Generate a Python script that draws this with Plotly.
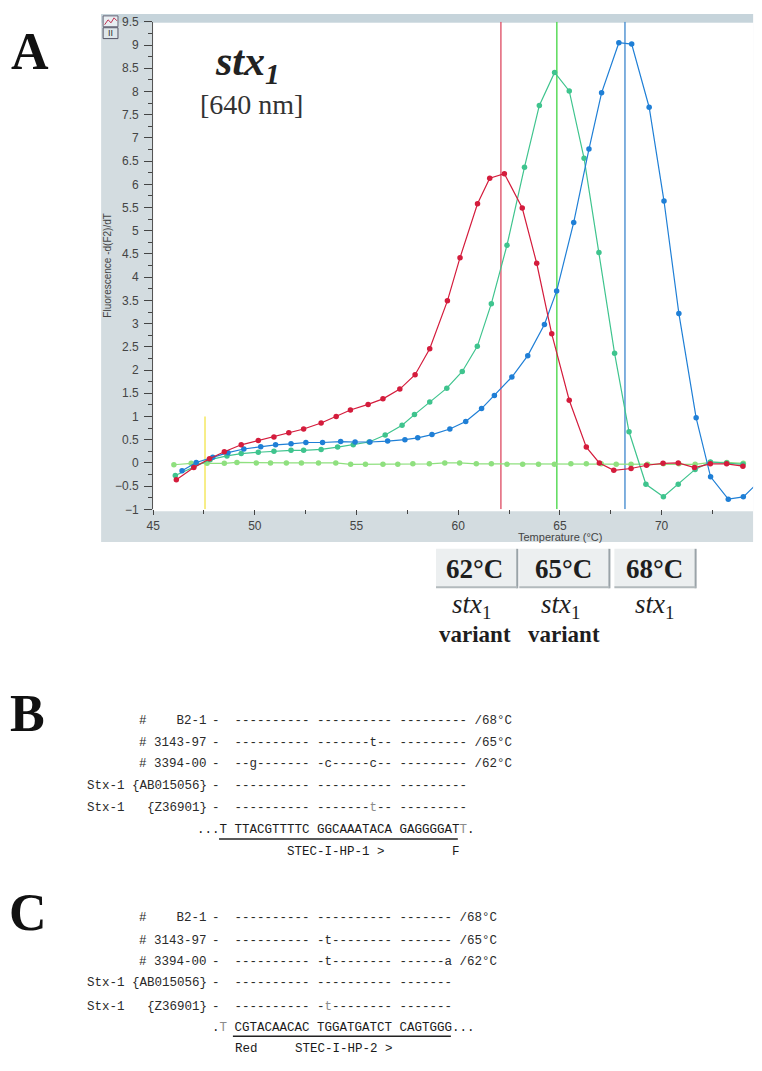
import re
import plotly.graph_objects as go

# ---------------- data ----------------
red_T = [46.14, 47.0, 47.77, 48.5, 49.33, 50.17, 50.94, 51.67, 52.4, 53.26, 54.0, 54.7,
         55.57, 56.3, 57.13, 57.88, 58.6, 59.47, 60.09, 60.95, 61.55, 62.27, 63.15, 63.86,
         64.6, 65.46, 66.3, 66.94, 67.65, 68.5, 69.26, 70.07, 70.82, 71.62, 72.4, 73.2, 74.0]
red_v = [-0.36, -0.10, 0.09, 0.24, 0.39, 0.48, 0.56, 0.65, 0.73, 0.86, 1.00, 1.14,
         1.26, 1.38, 1.59, 1.90, 2.46, 3.49, 4.42, 5.58, 6.13, 6.23, 5.49, 4.30,
         2.78, 1.35, 0.34, 0.00, -0.16, -0.12, -0.05, -0.01, 0.00, -0.10, -0.02, -0.02, -0.07]

teal_T = [46.09, 47.0, 47.8, 48.63, 49.33, 50.17, 50.94, 51.78, 52.4, 53.26, 54.07, 54.84,
          55.62, 56.41, 57.24, 57.85, 58.6, 59.44, 60.2, 60.94, 61.63, 62.4, 63.26, 63.99,
          64.74, 65.46, 66.19, 66.92, 67.69, 68.4, 69.23, 70.09, 70.82, 71.65, 72.4, 73.2, 74.0]
teal_v = [-0.27, -0.08, 0.07, 0.15, 0.20, 0.23, 0.25, 0.27, 0.27, 0.29, 0.34, 0.39,
          0.45, 0.60, 0.81, 1.04, 1.31, 1.61, 1.97, 2.51, 3.43, 4.69, 6.37, 7.70,
          8.41, 8.01, 6.56, 4.53, 2.36, 0.67, -0.46, -0.73, -0.46, -0.14, 0.02, 0.00, -0.03]

blue_T = [46.42, 47.12, 47.93, 48.68, 49.46, 50.29, 51.02, 51.78, 52.51, 53.33, 54.22, 54.93,
          55.66, 56.53, 57.38, 58.01, 58.71, 59.59, 60.37, 61.15, 61.78, 62.64, 63.42, 64.24,
          64.84, 65.68, 66.43, 67.05, 67.9, 68.53, 69.39, 70.12, 70.85, 71.7, 72.41, 73.28,
          74.02, 74.8]
blue_v = [-0.17, 0.01, 0.12, 0.22, 0.30, 0.35, 0.39, 0.41, 0.44, 0.44, 0.46, 0.45,
          0.45, 0.47, 0.50, 0.54, 0.61, 0.73, 0.89, 1.17, 1.45, 1.85, 2.31, 2.98,
          3.70, 5.18, 6.76, 7.97, 9.05, 9.02, 7.66, 5.64, 3.22, 0.97, -0.30, -0.78,
          -0.73, -0.40]

green_T = [46.02, 46.87, 47.65, 48.5, 49.12, 50.07, 50.77, 51.55, 52.29, 53.13, 53.98, 54.71,
           55.44, 56.3, 57.03, 57.77, 58.58, 59.34, 60.07, 60.89, 61.63, 62.4, 63.17, 63.95,
           64.73, 65.54, 66.3, 67.03, 67.77, 68.5, 69.31, 70.09, 70.85, 71.65, 72.4, 73.21, 74.02]
green_v = [-0.04, -0.01, -0.01, -0.01, 0.01, 0.0, 0.0, 0.0, 0.0, 0.0, 0.0, -0.03,
           -0.03, -0.03, -0.03, -0.02, -0.02, 0.0, 0.0, -0.02, -0.02, -0.03, -0.03, -0.03,
           -0.03, -0.02, -0.02, -0.02, -0.03, -0.03, -0.03, -0.02, -0.02, -0.03, 0.01, 0.01, -0.01]

tm_values = [62.1, 64.85, 68.2]          # melting-peak cursor lines
tm_labels = ["62°C", "65°C", "68°C"]
tm_names = ["<i>stx</i><sub>1</sub>", "<i>stx</i><sub>1</sub>", "<i>stx</i><sub>1</sub>"]
tm_sub = ["variant", "variant", ""]
cursor_T = 47.55                          # yellow start cursor
cursor_range = [-1.0, 1.0]

x_range = [45, 74.5]
y_range = [-1, 9.5]

# "[x]" marks a base printed in light gray
b_labels = ["#    B2-1", "# 3143-97", "# 3394-00", "Stx-1 {AB015056}", "Stx-1   {Z36901}"]
b_rows = ["-  ---------- ---------- --------- /68°C",
          "-  ---------- -------t-- --------- /65°C",
          "-  --g------- -c-----c-- --------- /62°C",
          "-  ---------- ---------- ---------",
          "-  ---------- -------[t]-- ---------"]
b_seq = "...T TTACGTTTTC GGCAAATACA GAGGGGAT[T]."
b_probe = "STEC-I-HP-1 >         F"

c_labels = b_labels
c_rows = ["-  ---------- ---------- ------- /68°C",
          "-  ---------- -t-------- ------- /65°C",
          "-  ---------- -t-------- ------a /62°C",
          "-  ---------- ---------- -------",
          "-  ---------- -[t]-------- -------"]
c_seq = ".[T] CGTACAACAC TGGATGATCT CAGTGGG..."
c_probe = "Red     STEC-I-HP-2 >"

# ---------------- helpers ----------------
W, H = 762, 1071


def px(x):
    return x / W


def py(y):
    return 1 - y / H


def seqfmt(s):
    s = s.replace(" ", "\u00a0")
    return re.sub(r"\[(\w)\]", r"<span style='color:#8a8a8a'>\1</span>", s)


fig = go.Figure()

# cursor lines
line_cols = ["#e0566c", "#4fd84f", "#4a8fd0"]
for t, c in zip(tm_values, line_cols):
    fig.add_trace(go.Scatter(x=[t, t], y=y_range, mode="lines",
                             line=dict(color=c, width=1.4), hoverinfo="skip", showlegend=False))
fig.add_trace(go.Scatter(x=[cursor_T, cursor_T], y=cursor_range, mode="lines",
                         line=dict(color="#f2e23a", width=1.2), hoverinfo="skip", showlegend=False))

series = [
    (green_T, green_v, "#8fe07f"),
    (teal_T, teal_v, "#3fc48e"),
    (blue_T, blue_v, "#1f7fd6"),
    (red_T, red_v, "#d41c3c"),
]
for xs, ys, c in series:
    fig.add_trace(go.Scatter(x=xs, y=ys, mode="lines+markers", cliponaxis=True,
                             line=dict(color=c, width=1.2),
                             marker=dict(color=c, size=5.5),
                             hoverinfo="skip", showlegend=False))

shapes = []
# gray instrument panel + white plot area
shapes.append(dict(type="rect", xref="paper", yref="paper", layer="below",
                   x0=px(95), x1=px(753), y0=py(542), y1=py(7),
                   fillcolor="#d3dce0", line=dict(width=0)))
shapes.append(dict(type="rect", xref="paper", yref="paper", layer="below",
                   x0=px(95), x1=px(753), y0=py(16), y1=py(7),
                   fillcolor="#c6d4db", line=dict(width=0)))
shapes.append(dict(type="rect", xref="paper", yref="paper", layer="below",
                   x0=px(147.5), x1=px(753), y0=py(511), y1=py(16),
                   fillcolor="white", line=dict(width=0)))
# small toolbar icons
shapes.append(dict(type="rect", xref="paper", yref="paper",
                   x0=px(97), x1=px(112), y0=py(20), y1=py(9),
                   fillcolor="#e8eef2", line=dict(color="#667", width=1)))
shapes.append(dict(type="path", xref="paper", yref="paper",
                   path=f"M {px(98.5)},{py(18)} L {px(102)},{py(13)} L {px(105)},{py(16)} L {px(108)},{py(11)} L {px(111)},{py(14)}",
                   line=dict(color="#c03050", width=1)))
shapes.append(dict(type="rect", xref="paper", yref="paper",
                   x0=px(97), x1=px(112), y0=py(32), y1=py(21),
                   fillcolor="#dfe6ea", line=dict(color="#556", width=1)))

# Tm buttons
box_x = [(433, 515), (517, 608), (613, 695)]
for (x0, x1) in box_x:
    shapes.append(dict(type="rect", xref="paper", yref="paper",
                       x0=px(x0), x1=px(x1), y0=py(588), y1=py(549),
                       fillcolor="#eceff0", line=dict(width=0)))
    shapes.append(dict(type="line", xref="paper", yref="paper",
                       x0=px(x1), x1=px(x1), y0=py(589), y1=py(549),
                       line=dict(color="#9aa3a8", width=2)))
    shapes.append(dict(type="line", xref="paper", yref="paper",
                       x0=px(x0), x1=px(x1), y0=py(588), y1=py(588),
                       line=dict(color="#b3babd", width=2)))

# underlines of probe sequences
shapes.append(dict(type="line", xref="paper", yref="paper",
                   x0=px(214), x1=px(455), y0=py(843), y1=py(843),
                   line=dict(color="#222", width=1.5)))
shapes.append(dict(type="line", xref="paper", yref="paper",
                   x0=px(228), x1=px(448), y0=py(1043), y1=py(1043),
                   line=dict(color="#222", width=1.5)))

ann = []


def add_text(x, y, text, size, family="Liberation Serif", color="#1a1a1a",
             xanchor="center", yanchor="middle", angle=0):
    ann.append(dict(x=px(x), y=py(y), xref="paper", yref="paper", text=text,
                    showarrow=False, xanchor=xanchor, yanchor=yanchor, textangle=angle,
                    borderpad=0, borderwidth=0,
                    font=dict(family=family, size=size, color=color)))


# panel letters
add_text(23, 45, "<b>A</b>", 52, color="#111")
add_text(21, 716, "<b>B</b>", 52, color="#111")
add_text(21, 917, "<b>C</b>", 52, color="#111")

# chart titles
add_text(243, 58, "<b><i>stx<sub>1</sub></i></b>", 42, color="#222")
add_text(247, 99, "[640 nm]", 28, color="#333")
add_text(102, 262, "Fluorescence -d(F2)/dT", 10, family="Liberation Sans",
         color="#444", angle=-90)
add_text(558, 537, "Temperature (°C)", 11, family="Liberation Sans", color="#444")
add_text(104.5, 26.5, "II", 9, family="Liberation Sans", color="#333")

# Tm buttons text
centers = [472, 562, 653]
for cx, lab, nm, sub in zip(centers, tm_labels, tm_names, tm_sub):
    add_text(cx, 569, f"<b>{lab}</b>", 27, color="#1e1e1e")
    add_text(cx - 3 if sub else cx, 607, nm, 27, color="#1e1e1e")
    if sub:
        add_text(cx, 636, f"<b>{sub}</b>", 23, color="#1e1e1e")

# alignment panels
mono = "Liberation Mono"
MS = 12.5
CW = 7.5
x_row = 207.25
x_lab = 202

b_y = [723, 746, 767, 789, 812]
for lab, row, yy in zip(b_labels, b_rows, b_y):
    add_text(x_lab, yy, seqfmt(lab), MS, family=mono, color="#2a2a2a", xanchor="right")
    add_text(x_row, yy, seqfmt(row), MS, family=mono, color="#2a2a2a", xanchor="left")
add_text(x_row - 2 * CW, 834, seqfmt(b_seq), MS, family=mono, color="#1a1a1a", xanchor="left")
add_text(x_row + 10 * CW, 856, seqfmt(b_probe), MS, family=mono, color="#1a1a1a", xanchor="left")

c_y = [923, 946, 968, 989, 1013]
for lab, row, yy in zip(c_labels, c_rows, c_y):
    add_text(x_lab, yy, seqfmt(lab), MS, family=mono, color="#2a2a2a", xanchor="right")
    add_text(x_row, yy, seqfmt(row), MS, family=mono, color="#2a2a2a", xanchor="left")
add_text(x_row, 1035, seqfmt(c_seq), MS, family=mono, color="#1a1a1a", xanchor="left")
add_text(x_row + 3 * CW, 1056, seqfmt(c_probe), MS, family=mono, color="#1a1a1a", xanchor="left")

fig.update_layout(
    width=W, height=H, autosize=False,
    margin=dict(l=0, r=0, t=0, b=0),
    paper_bgcolor="white", plot_bgcolor="white",
    showlegend=False,
    shapes=shapes, annotations=ann,
    xaxis=dict(domain=[px(147.5), px(753)], range=x_range, tick0=45, dtick=5,
               ticks="outside", ticklen=5, tickcolor="#444", tickwidth=1,
               tickfont=dict(family="Liberation Sans", size=12, color="#444"),
               showgrid=False, zeroline=False, showline=False, fixedrange=True,
               minor=dict(dtick=2.5, ticks="outside", ticklen=4, tickcolor="#444", showgrid=False)),
    yaxis=dict(domain=[py(509), py(15)], range=y_range, tick0=0, dtick=0.5,
               ticks="outside", ticklen=8, tickcolor="#444", tickwidth=1,
               tickfont=dict(family="Liberation Sans", size=12, color="#444"),
               showgrid=False, zeroline=False, showline=True, linecolor="#555", linewidth=1,
               ticklabelstandoff=3, fixedrange=True,
               minor=dict(dtick=0.25, ticks="outside", ticklen=4, tickcolor="#444", showgrid=False)),
)

fig.write_html("out.html", config={"displayModeBar": False},
               post_script="document.body.style.margin='0';")
